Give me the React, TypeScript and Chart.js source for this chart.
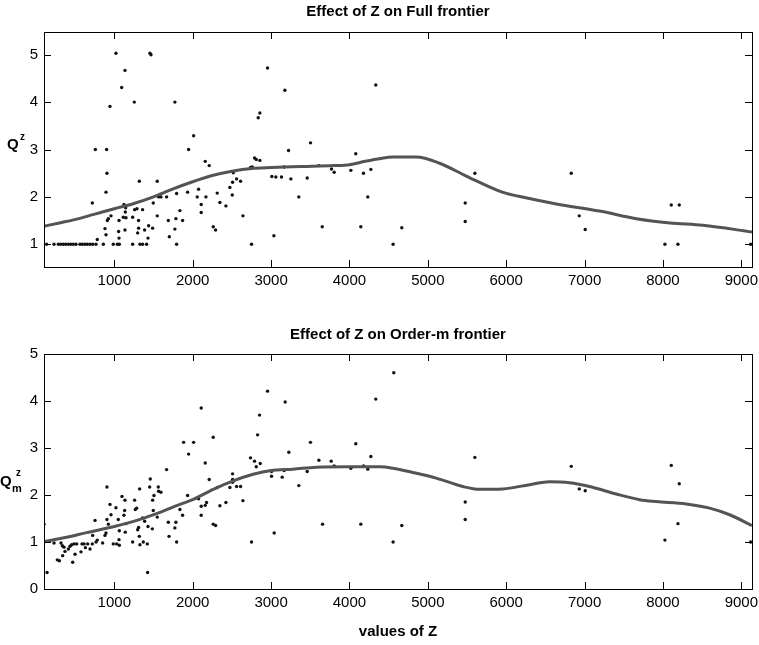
import React, { useEffect, useRef } from "react";
import { Chart, registerables } from "chart.js";

Chart.register(...registerables);

// ---------- data ----------
const xTicks = [1000, 2000, 3000, 4000, 5000, 6000, 7000, 8000, 9000];
const fullYTicks = [1, 2, 3, 4, 5];
const orderYTicks = [0, 1, 2, 3, 4, 5];

const fullTitle = "Effect of Z on Full frontier";
const orderTitle = "Effect of Z on Order-m frontier";
const xTitle = "values of Z";

// Full frontier scatter (Z, Q^z)
const fullZ = [
  137, 231, 286, 316, 350, 380, 414, 443, 477, 511, 562, 592, 626, 656, 690, 724, 766, 860, 987, 1038, 1064, 1234, 1327, 1361, 1412, 1795, 2751,
  720, 758, 783, 902, 906, 894, 911, 924, 958, 881, 894, 945, 1021, 1094, 1136, 1055, 1060, 1060, 1123, 1140, 1145, 1115, 1149, 1136,
  1234, 1255, 1259, 1289, 1298, 1319, 1310, 1310, 1361, 1387, 1430, 1455, 1468, 1438, 1489, 1497, 1548, 1548, 1565, 1595, 1667, 1689,
  1702, 1773, 1773, 1795, 1786, 1837, 1871, 1948, 1935, 2012, 2075, 2058, 2109, 2109, 2160, 2211, 2169, 2262, 2292, 2313, 2347, 2424,
  2475, 2505, 2509, 2518, 2560, 2611, 2641, 2738, 2760, 2789, 2811, 2836, 2857, 2857, 2955, 3010, 3061, 3036, 3133, 3176, 3167, 3223,
  3253, 3354, 3461, 3503, 3610, 3653, 3771, 3805, 4018, 4081, 4145, 4179, 4234, 4273, 4336, 4557, 4668, 5477, 5477, 5600, 6830, 6932,
  7008, 8025, 8106, 8208, 8191, 9119,
];
const fullQ = [
  1, 1, 1, 1, 1, 1, 1, 1, 1, 1, 1, 1, 1, 1, 1, 1, 1, 1, 1, 1, 1, 1, 1, 1, 1, 1, 1,
  1.87, 3.0, 1.1, 3.0, 2.5, 2.1, 1.5, 1.54, 1.6, 1.33, 1.2, 3.91, 5.03, 4.31, 4.67, 1.27, 1.13, 1.5, 1.84, 1.68, 1.77, 1.57, 1.56, 1.3,
  1.57, 4.0, 1.73, 1.75, 1.24, 2.33, 1.5, 1.34, 1.73, 1.3, 1.13, 5.03, 5.0, 1.39, 1.34, 1.87, 2.33, 1.6, 2.0, 2.0, 2.0, 1.5,
  1.16, 4.0, 1.32, 2.07, 1.54, 1.71, 1.5, 3.0, 2.1, 3.29, 2.16, 2.0, 1.84, 1.67, 2.75, 2.66, 2.0, 1.37, 1.3, 2.08, 1.88, 1.81,
  2.2, 2.04, 2.31, 2.51, 2.38, 2.33, 1.6, 2.62, 2.63, 2.82, 2.79, 3.67, 3.77, 2.77, 4.72, 2.43, 2.42, 1.18, 2.42, 4.25, 2.63, 2.98,
  2.38, 2.0, 2.4, 3.14, 2.66, 1.37, 2.59, 2.52, 2.56, 2.91, 1.37, 2.5, 2.0, 2.58, 4.36, 1.0, 1.35, 1.87, 1.48, 2.5, 2.5, 1.6,
  1.31, 1.0, 1.83, 1.83, 1.0, 1.0,
];

// Full frontier smoothed curve
const fullCurveZ = [103, 300, 520, 740, 1000, 1250, 1500, 1750, 2000, 2250, 2500, 2750, 3000, 3400, 3800, 4000, 4200, 4400, 4550, 4850, 5150, 5490, 5950, 6250, 6640, 7190, 7660, 8090, 8510, 9136];
const fullCurveQ = [1.38, 1.45, 1.53, 1.63, 1.75, 1.86, 2.0, 2.17, 2.32, 2.45, 2.54, 2.6, 2.62, 2.64, 2.66, 2.68, 2.75, 2.81, 2.84, 2.84, 2.71, 2.44, 2.1, 1.98, 1.85, 1.7, 1.54, 1.45, 1.4, 1.26];

// Order-m frontier scatter (Z, Q_m^z)
const orderZ = [
  103, 142, 231, 273, 299, 320, 337, 341, 358, 371, 414, 435, 456, 469, 486, 499, 520, 575, 588, 614, 631, 660, 690, 719, 724, 754,
  767, 783, 851, 881, 894, 906, 906, 924, 945, 958, 987, 1021, 1030, 1051, 1060, 1064, 1064, 1098, 1123, 1136, 1132, 1149, 1140, 1234,
  1259, 1268, 1285, 1298, 1310, 1323, 1319, 1327, 1361, 1370, 1387, 1421, 1425, 1430, 1451, 1459, 1489, 1485, 1497, 1506, 1548, 1561,
  1565, 1595, 1667, 1689, 1698, 1773, 1786, 1795, 1837, 1871, 1884, 1935, 1948, 2012, 2075, 2109, 2109, 2109, 2160, 2160, 2177, 2211,
  2262, 2262, 2292, 2313, 2347, 2424, 2475, 2509, 2509, 2509, 2560, 2611, 2641, 2738, 2751, 2789, 2811, 2828, 2853, 2862, 2955, 3006,
  3006, 3040, 3142, 3167, 3180, 3227, 3354, 3461, 3503, 3610, 3657, 3767, 3805, 4018, 4081, 4145, 4179, 4234, 4273, 4336, 4566, 4557,
  4668, 5477, 5477, 5600, 6830, 6932, 7008, 8025, 8106, 8208, 8191, 9119,
];
const orderQ = [
  1.38, 0.35, 0.98, 0.62, 0.6, 0.98, 0.92, 0.71, 0.89, 0.8, 0.85, 0.91, 0.94, 0.57, 0.96, 0.74, 0.96, 0.79, 0.96, 0.96, 0.88, 0.96, 0.85, 0.96, 1.14, 1.46,
  1.0, 1.04, 0.98, 1.14, 1.19, 2.17, 1.48, 1.38, 1.8, 1.58, 0.96, 1.73, 0.96, 1.48, 1.05, 0.93, 1.24, 1.97, 1.57, 1.89, 1.67, 1.39, 1.21, 1.0,
  1.89, 1.69, 1.72, 1.26, 1.31, 2.13, 1.12, 0.94, 1.51, 1.0, 1.44, 0.96, 0.35, 1.33, 2.17, 2.34, 1.89, 1.28, 1.67, 1.99, 1.53, 2.17,
  2.08, 2.06, 2.54, 1.42, 1.12, 1.3, 1.42, 1.0, 1.69, 1.57, 3.12, 1.99, 2.87, 3.12, 1.92, 3.85, 1.76, 1.57, 2.68, 1.78, 1.84, 2.33,
  3.23, 1.38, 1.35, 2.16, 1.77, 1.84, 2.16, 2.45, 2.33, 2.27, 2.18, 2.18, 1.88, 2.79, 1.0, 2.72, 2.6, 3.28, 3.7, 2.67, 4.21, 2.5,
  2.4, 1.19, 2.38, 2.52, 3.98, 2.91, 2.2, 2.5, 3.12, 2.74, 1.38, 2.72, 2.62, 2.57, 3.09, 1.38, 2.62, 2.55, 2.82, 4.04, 4.6, 1.0,
  1.35, 1.85, 1.48, 2.8, 2.61, 2.13, 2.09, 1.04, 2.63, 2.24, 1.39, 1.0,
];

// Order-m smoothed curve
const orderCurveZ = [103, 392, 647, 1000, 1327, 1582, 1837, 2000, 2262, 2517, 2772, 3000, 3280, 3580, 4000, 4387, 4553, 4808, 5106, 5447, 5660, 5957, 6298, 6553, 6808, 7064, 7404, 7702, 7915, 8297, 8595, 8851, 9136];
const orderCurveQ = [1.01, 1.1, 1.2, 1.33, 1.48, 1.63, 1.8, 1.9, 2.12, 2.3, 2.44, 2.52, 2.55, 2.59, 2.6, 2.6, 2.57, 2.48, 2.36, 2.18, 2.12, 2.13, 2.22, 2.28, 2.26, 2.18, 2.02, 1.9, 1.86, 1.81, 1.72, 1.58, 1.35];

// ---------- chart helpers ----------
const FONT = "'Liberation Sans', Arial, Helvetica, sans-serif";

const framePlugin = {
  id: "frameTicks",
  afterDatasetsDraw(chart: any) {
    const { ctx, chartArea: a, scales } = chart;
    const xs = scales.x;
    const ys = scales.y;
    const len = 7;
    ctx.save();
    ctx.strokeStyle = "#000";
    ctx.lineWidth = 1;
    ctx.strokeRect(Math.round(a.left) + 0.5, Math.round(a.top) + 0.5, Math.round(a.right - a.left), Math.round(a.bottom - a.top));
    ctx.beginPath();
    xs.ticks.forEach((t: any) => {
      const px = Math.round(xs.getPixelForValue(t.value)) + 0.5;
      ctx.moveTo(px, a.top);
      ctx.lineTo(px, a.top + len);
      ctx.moveTo(px, a.bottom);
      ctx.lineTo(px, a.bottom - len);
    });
    ys.ticks.forEach((t: any) => {
      const py = Math.round(ys.getPixelForValue(t.value)) + 0.5;
      ctx.moveTo(a.left, py);
      ctx.lineTo(a.left + len, py);
      ctx.moveTo(a.right, py);
      ctx.lineTo(a.right - len, py);
    });
    ctx.stroke();
    ctx.restore();
  },
};

function makeTextPlugin(kind: "full" | "order") {
  return {
    id: "texts",
    afterDraw(chart: any) {
      const { ctx, chartArea: a } = chart;
      const cx = (a.left + a.right) / 2;
      ctx.save();
      ctx.fillStyle = "#000";
      ctx.textAlign = "center";
      ctx.textBaseline = "middle";
      ctx.font = `bold 15px ${FONT}`;
      if (kind === "full") {
        ctx.fillText(fullTitle, cx, 12);
        ctx.textAlign = "left";
        ctx.textBaseline = "alphabetic";
        ctx.font = `bold 15px ${FONT}`;
        ctx.fillText("Q", 7, 149);
        ctx.font = `bold 10px ${FONT}`;
        ctx.fillText("z", 20, 140);
      } else {
        ctx.fillText(orderTitle, cx, 35);
        ctx.fillText(xTitle, cx, 332);
        ctx.textAlign = "left";
        ctx.textBaseline = "alphabetic";
        ctx.font = `bold 15px ${FONT}`;
        ctx.fillText("Q", 0, 186);
        ctx.font = `bold 10px ${FONT}`;
        ctx.fillText("z", 16, 176);
        ctx.font = `bold 11px ${FONT}`;
        ctx.fillText("m", 12, 192);
      }
      ctx.restore();
    },
  };
}

function buildConfig(
  kind: "full" | "order",
  zs: number[],
  qs: number[],
  cz: number[],
  cq: number[],
  yMin: number,
  yMax: number,
  yTicks: number[],
  padTop: number,
  xAxisHeight: number
): any {
  return {
    type: "scatter",
    data: {
      datasets: [
        {
          type: "line",
          data: cz.map((z, i) => ({ x: z, y: cq[i] })),
          borderColor: "#545454",
          borderWidth: 3,
          pointRadius: 0,
          cubicInterpolationMode: "monotone",
          fill: false,
          order: 0,
        },
        {
          type: "scatter",
          data: zs.map((z, i) => ({ x: z, y: qs[i] })),
          backgroundColor: "#111",
          borderWidth: 0,
          pointRadius: 1.7,
          order: 1,
        },
      ],
    },
    options: {
      animation: false,
      responsive: false,
      maintainAspectRatio: false,
      devicePixelRatio: 1,
      layout: { padding: { left: 0, right: 7, top: padTop, bottom: 0 } },
      plugins: {
        legend: { display: false },
        tooltip: { enabled: false },
        title: { display: false },
      },
      scales: {
        x: {
          type: "linear",
          min: 103,
          max: 9136,
          grid: { display: false, drawTicks: false },
          border: { display: false },
          ticks: {
            color: "#000",
            font: { family: FONT, size: 15 },
            padding: 5,
            maxRotation: 0,
            autoSkip: false,
            callback: (v: any) => String(v),
          },
          afterBuildTicks: (s: any) => {
            s.ticks = xTicks.map((v) => ({ value: v }));
          },
          afterFit: (s: any) => {
            s.height = xAxisHeight;
            s.paddingLeft = 0;
            s.paddingRight = 0;
          },
        },
        y: {
          type: "linear",
          min: yMin,
          max: yMax,
          grid: { display: false, drawTicks: false },
          border: { display: false },
          ticks: {
            color: "#000",
            font: { family: FONT, size: 15 },
            padding: 6,
            callback: (v: any) => String(v),
          },
          afterBuildTicks: (s: any) => {
            s.ticks = yTicks.map((v) => ({ value: v }));
          },
          afterFit: (s: any) => {
            s.width = 44;
            s.paddingTop = 0;
            s.paddingBottom = 0;
          },
        },
      },
    },
    plugins: [framePlugin, makeTextPlugin(kind)],
  };
}

export default function App() {
  const topRef = useRef<HTMLCanvasElement | null>(null);
  const botRef = useRef<HTMLCanvasElement | null>(null);

  useEffect(() => {
    const c1 = new Chart(
      topRef.current as HTMLCanvasElement,
      buildConfig("full", fullZ, fullQ, fullCurveZ, fullCurveQ, 0.52, 5.48, fullYTicks, 32, 33)
    );
    const c2 = new Chart(
      botRef.current as HTMLCanvasElement,
      buildConfig("order", orderZ, orderQ, orderCurveZ, orderCurveQ, 0, 5, orderYTicks, 54, 56)
    );
    return () => {
      c1.destroy();
      c2.destroy();
    };
  }, []);

  return (
    <div style={{ position: "absolute", left: 0, top: 0, width: 759, height: 645, background: "#fff" }}>
      <canvas ref={topRef} width={759} height={300} style={{ position: "absolute", left: 0, top: 0, width: 759, height: 300 }} />
      <canvas ref={botRef} width={759} height={345} style={{ position: "absolute", left: 0, top: 300, width: 759, height: 345 }} />
    </div>
  );
}
